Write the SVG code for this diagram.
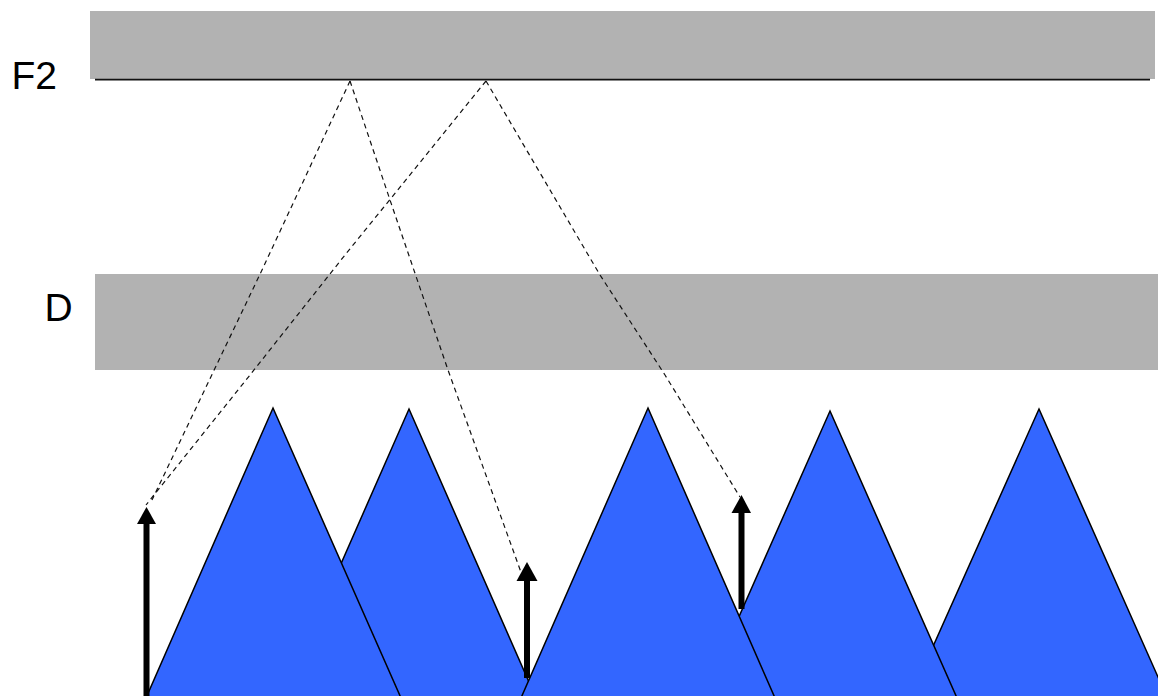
<svg xmlns="http://www.w3.org/2000/svg" width="1158" height="696" viewBox="0 0 1158 696">
<style>
.bar{fill:#b2b2b2}
.tri{fill:#3366ff;stroke:#000;stroke-width:1.5}
.lbl{font-family:"Liberation Sans",Arial,sans-serif;font-size:39px;fill:#000}
.dash{fill:none;stroke:#111;stroke-width:1.2;stroke-dasharray:5 4}
.arr{stroke:#000;stroke-width:6;fill:none}
.head{fill:#000}
</style>
<rect width="1158" height="696" fill="#fff"/>
<g id="F2"><rect class="bar" x="90" y="11" width="1065" height="68"/><line x1="95" y1="79.700" x2="1150" y2="79.700" stroke="#111" stroke-width="1.8"/><text class="lbl" x="11.500" y="88.500">F2</text></g>
<g id="D"><rect class="bar" x="95" y="274" width="1063" height="96"/><text class="lbl" x="44.500" y="321">D</text></g>
<g id="tri5"><polygon class="tri" points="1039,409 1162,686 1162,698 910,698"/></g>
<g id="tri4"><polygon class="tri" points="830,411 957,698 703,698"/></g>
<g id="tri2"><polygon class="tri" points="409,409 536,698 282,698"/></g>
<g id="tri3"><polygon class="tri" points="648,408 775,698 521,698"/></g>
<g id="tri1"><polygon class="tri" points="273,408 401,698 146,698"/></g>
<g id="connectors">
<path class="dash" d="M350,81 L262,270 L152,500"/>
<path class="dash" d="M486,81 L345,255 L250,375 L146,505"/>
<path class="dash" d="M350,81 L390,200 L448,370 L522,575"/>
<path class="dash" d="M486,81 L600,275 L665,375 L740,497"/>
<g id="arrow1"><line class="arr" x1="146.500" y1="522" x2="146.500" y2="696"/><polygon class="head" points="146.500,507 137,524 156,524"/></g>
<g id="arrow2"><line class="arr" x1="527" y1="578" x2="527" y2="678"/><polygon class="head" points="527,562 516.500,581 537.500,581"/></g>
<g id="arrow3"><line class="arr" x1="741.500" y1="511" x2="741.500" y2="609"/><polygon class="head" points="741.500,495 731.500,513 751,513"/></g>
</g>
</svg>
